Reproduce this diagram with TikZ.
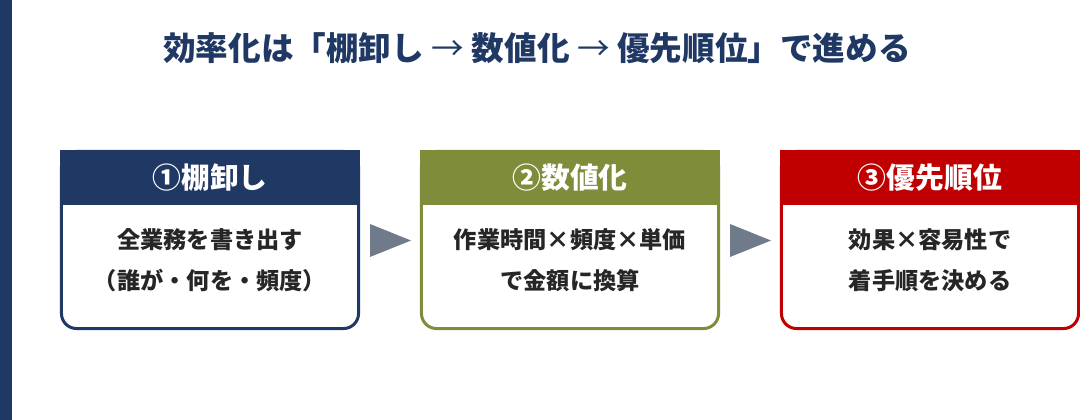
\documentclass[tikz,border=0pt]{standalone}
\usepackage{fontspec}
\setmainfont{Noto Sans CJK JP}
\usetikzlibrary{positioning,calc}
\definecolor{navy}{RGB}{31,56,100}
\definecolor{olive}{RGB}{127,140,58}
\definecolor{darkred}{RGB}{192,0,0}
\definecolor{arrowgray}{RGB}{111,122,139}
\definecolor{textdark}{RGB}{38,38,38}

\begin{document}
\begin{tikzpicture}[
    x=0.025cm, y=-0.025cm,
    card/.style={draw, line width=0.075cm, rounded corners=0.375cm, fill=white,
        minimum width=7.425cm, minimum height=4.425cm, inner sep=0},
    head/.style={minimum width=7.5cm, minimum height=1.375cm, inner sep=0, outer sep=0,
        anchor=north, text=white, font=\fontsize{20.5}{24}\selectfont\bfseries},
    body/.style={align=center, text=textdark, inner sep=0,
        font=\fontsize{16.5}{29}\selectfont\bfseries},
    tri/.style={fill=arrowgray}
]
    \useasboundingbox (0,0) rectangle (1080,420);
    \fill[navy] (0,0) rectangle (12,420);

    \node[text=navy, font=\fontsize{23.2}{27}\selectfont\bfseries] (title) at (537,48)
        {効率化は「棚卸し {\mdseries→} 数値化 {\mdseries→} 優先順位」で進める};

    % three steps
    \node[card, draw=navy] (inv) at (210,240) {};
    \node[card, draw=olive] (num) at (570,240) {};
    \node[card, draw=darkred] (prio) at (930,240) {};

    \node[head, fill=navy] (inv-hd) at (inv.north) {①棚卸し};
    \node[head, fill=olive] (num-hd) at (num.north) {②数値化};
    \node[head, fill=darkred] (prio-hd) at (prio.north) {③優先順位};

    \node[body] (inv-tx) at ($(inv.center)+(0,20)$) {全業務を書き出す\\（誰が・何を・頻度）};
    \node[body] (num-tx) at ($(num.center)+(0,20)$) {作業時間×頻度×単価\\で金額に換算};
    \node[body] (prio-tx) at ($(prio.center)+(0,20)$) {効果×容易性で\\着手順を決める};

    % arrows between steps
    \coordinate (a1) at ($(inv.east)!0.5!(num.west)+(0.5,0.5)$);
    \coordinate (a2) at ($(num.east)!0.5!(prio.west)+(0.5,0.5)$);
    \foreach \a in {a1,a2}
        \fill[tri] ($(\a)+(-20.5,-16.5)$) -- ($(\a)+(20.5,0)$) -- ($(\a)+(-20.5,16.5)$) -- cycle;
\end{tikzpicture}
\end{document}
